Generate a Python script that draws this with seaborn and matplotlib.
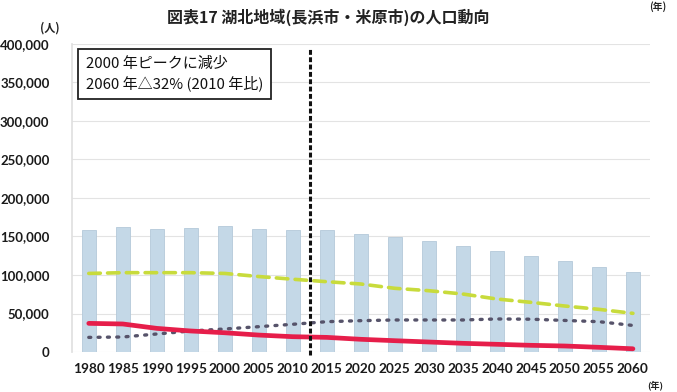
import numpy as np
import pandas as pd
import matplotlib
matplotlib.use("Agg")
import matplotlib.pyplot as plt
import seaborn as sns

# 湖北地域（長浜市・米原市）人口推移
years = ["1980", "1985", "1990", "1995", "2000", "2005", "2010", "2015", "2020",
         "2025", "2030", "2035", "2040", "2045", "2050", "2055", "2060"]
total = [159000, 162000, 160000, 161000, 163000, 160000, 159000, 158000, 153000,
         149000, 144000, 138000, 131500, 125000, 118500, 110000, 104000]
working_age = [102000, 103000, 103000, 103000, 102000, 98000, 94500, 91300, 88300,
               82700, 79600, 75300, 68800, 64500, 59700, 55400, 50200]
elderly = [19000, 19500, 23400, 27300, 29900, 32900, 36000, 39400, 40700,
           41600, 41600, 41600, 42900, 42600, 41000, 39400, 34500]
children = [37200, 36400, 30700, 27300, 25000, 22000, 19900, 19000, 16500,
            14700, 13000, 11300, 10000, 8700, 7800, 6100, 4200]
y_ticks = [0, 50000, 100000, 150000, 200000, 250000, 300000, 350000, 400000]

df = pd.DataFrame({"year": years, "total": total, "working": working_age,
                   "elderly": elderly, "children": children})

sns.set_theme(style="white")
plt.rcParams["font.family"] = ["Noto Sans CJK JP", "DejaVu Sans"]

fig = plt.figure(figsize=(6.77, 3.92), dpi=100)
ax = fig.add_axes([0.106, 0.102, 0.854, 0.786])

sns.barplot(data=df, x="year", y="total", color="#c4d8e7", width=0.42,
            saturation=1, ax=ax, zorder=2, edgecolor="#b4c9da", linewidth=0.6)

sns.pointplot(data=df, x="year", y="working", color="#c8db3c", marker="",
              linestyle=(0, (3.2, 2.0)), linewidth=2.6, errorbar=None, ax=ax)
sns.pointplot(data=df, x="year", y="elderly", color="#56536a", marker="",
              linestyle=(0, (0.6, 2.2)), linewidth=2.4, errorbar=None, ax=ax)
sns.pointplot(data=df, x="year", y="children", color="#e61e4a", marker="",
              linestyle="-", linewidth=3.4, errorbar=None, ax=ax)
for ln in ax.lines:
    ln.set_dash_capstyle("round")
    ln.set_solid_capstyle("round")
    ln.set_zorder(4)

# 実績と推計の境目
ax.axvline(6.5, ymin=-0.01, ymax=0.99, color="#111111", linestyle=(0, (1.6, 0.8)),
           linewidth=2.2, zorder=5, clip_on=False)

ax.set_ylim(0, 400000)
ax.set_xlim(-0.5, 16.5)
ax.set_yticks(y_ticks)
ax.set_yticklabels([f"{v:,}" for v in y_ticks])
ax.yaxis.grid(True, color="#e3e3e3", linewidth=0.8)
ax.set_axisbelow(True)
for s in ["top", "right", "bottom"]:
    ax.spines[s].set_visible(False)
ax.spines["left"].set_color("#e0e0e0")
ax.set_xlabel("")
ax.set_ylabel("")
ax.tick_params(axis="y", length=0, pad=16, labelsize=9.5, colors="#1a1a1a")
ax.tick_params(axis="x", length=0, pad=8, labelsize=9.8, colors="#1a1a1a")
for lab in ax.get_xticklabels() + ax.get_yticklabels():
    lab.set_fontfamily(["Lato", "DejaVu Sans"])
    lab.set_fontweight("bold")

fig.text(0.485, 0.957, "図表17 湖北地域(長浜市・米原市)の人口動向",
         ha="center", va="center", fontsize=11.5, fontweight="bold", color="#222222")
fig.text(0.074, 0.928, "(人)", ha="center", va="center", fontsize=8,
         fontweight="bold", color="#222222")
fig.text(0.972, 0.998, "(年)", ha="center", va="top", fontsize=7,
         fontweight="bold", color="#222222")
fig.text(0.968, 0.016, "(年)", ha="center", va="center", fontsize=6.5,
         fontweight="bold", color="#222222")

ax.text(0.024, 0.958, "2000 年ピークに減少\n2060 年△32% (2010 年比)",
        transform=ax.transAxes, ha="left", va="top", fontsize=10.8,
        color="#111111", linespacing=1.35, zorder=6,
        bbox=dict(boxstyle="square,pad=0.5", facecolor="white",
                  edgecolor="#222222", linewidth=1.3))

fig.savefig("out.png", dpi=100)
